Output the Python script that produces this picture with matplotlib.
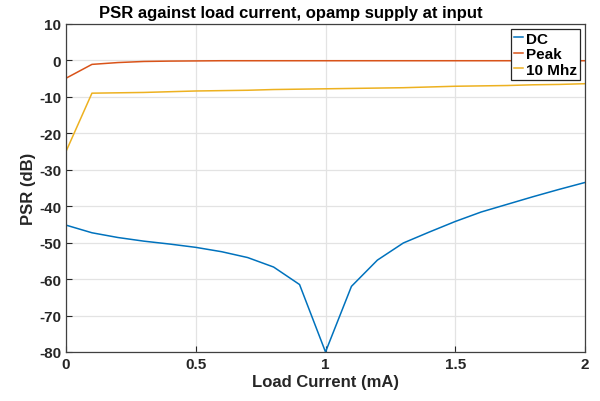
import numpy as np
import matplotlib
matplotlib.use("Agg")
from matplotlib import pyplot as plt

# load current (mA)
current = [0, 0.1, 0.2, 0.3, 0.4, 0.5, 0.6, 0.7, 0.8, 0.9, 1.0,
           1.1, 1.2, 1.3, 1.4, 1.5, 1.6, 1.7, 1.8, 1.9, 2.0]
# PSR (dB)
psr_dc = [-45.2, -47.3, -48.6, -49.6, -50.4, -51.3, -52.5, -54.1, -56.7, -61.5, -80.0,
          -62.0, -54.8, -50.1, -47.1, -44.2, -41.6, -39.5, -37.4, -35.4, -33.5]
psr_peak = [-4.9, -1.1, -0.6, -0.3, -0.2, -0.15, -0.1, -0.1, -0.1, -0.1, -0.1,
            -0.1, -0.1, -0.1, -0.1, -0.1, -0.1, -0.1, -0.1, -0.1, -0.1]
psr_10m = [-25.0, -9.0, -8.9, -8.8, -8.6, -8.4, -8.3, -8.2, -8.0, -7.9, -7.8,
           -7.7, -7.6, -7.5, -7.3, -7.1, -7.0, -6.9, -6.7, -6.6, -6.4]

plt.rcParams['font.family'] = ['Liberation Sans', 'DejaVu Sans']
plt.rcParams['font.weight'] = 'bold'
plt.rcParams['axes.unicode_minus'] = False

fig = plt.figure(figsize=(6, 4.02), dpi=100)
ax = fig.add_axes([0.11, 0.122, 0.865, 0.816])

ax.plot(current, psr_dc, color='#0072BD', lw=1.1, label='DC')
ax.plot(current, psr_peak, color='#D95319', lw=1.1, label='Peak')
ax.plot(current, psr_10m, color='#EDB120', lw=1.1, label='10 Mhz')

ax.set_xlim(0, 2)
ax.set_ylim(-80, 10)
ax.set_xticks([0, 0.5, 1, 1.5, 2])
ax.set_xticklabels(['0', '0.5', '1', '1.5', '2'])
ax.set_yticks(np.arange(-80, 11, 10))
ax.grid(True, color='#e3e3e3', lw=0.9)
ax.set_axisbelow(True)
ax.tick_params(direction='in', length=4, colors='#262626', labelsize=11, width=0.8)
for s in ax.spines.values():
    s.set_color('#404040')
    s.set_linewidth(0.9)

ax.set_xlabel('Load Current (mA)', fontsize=12, fontweight='bold', color='#262626', labelpad=2)
ax.set_ylabel('PSR (dB)', fontsize=12, fontweight='bold', color='#262626', labelpad=2)
ax.set_title('PSR against load current, opamp supply at input', fontsize=12,
             fontweight='bold', pad=5, x=0.434)

leg = ax.legend(loc='upper right', fontsize=11, handlelength=0.6, handletextpad=0.2,
                borderaxespad=0.3, borderpad=0.2, labelspacing=0.1, fancybox=False,
                framealpha=1)
leg.get_frame().set_edgecolor('#262626')
leg.get_frame().set_linewidth(0.9)

plt.savefig('out.png', dpi=100)
